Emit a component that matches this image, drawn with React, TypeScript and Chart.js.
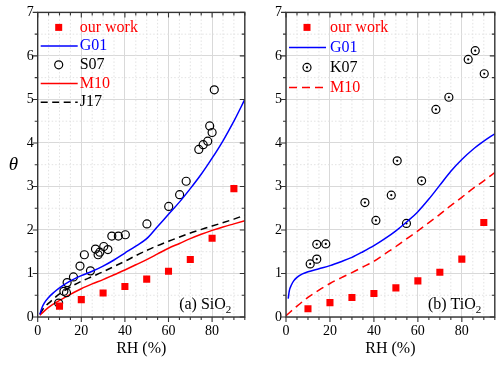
import React, { useEffect, useRef } from 'react';
import { Chart, registerables } from 'chart.js';
Chart.register(...registerables);

const FONT = "'Liberation Serif', 'Times New Roman', serif";
const RED = '#ff0000';
const BLUE = '#0000ff';
const AXIS = '#333333';

// ---- shared ----
const ourWorkRH = [10, 20, 30, 40, 50, 60, 70, 80, 90];
const xMajorTicks = [0, 20, 40, 60, 80];
const yMajorTicks = [0, 1, 2, 3, 4, 5, 6, 7];

// ---- panel (a) SiO2 ----
const sio2OurWork = [0.25, 0.40, 0.55, 0.70, 0.87, 1.05, 1.32, 1.81, 2.95];
const sio2G01RH = [1, 2, 3, 5, 7.5, 10, 15, 20, 25, 30, 35, 40, 45, 50, 55, 60, 65, 70, 75, 80, 85, 90, 95];
const sio2G01 = [0.06, 0.22, 0.32, 0.45, 0.57, 0.67, 0.83, 0.95, 1.05, 1.17, 1.31, 1.47, 1.63, 1.80, 2.08, 2.36, 2.64, 2.95, 3.28, 3.65, 4.05, 4.50, 5.00];
const sio2S07RH = [9.6, 12, 13.2, 13.5, 16.4, 19.4, 21.4, 24.2, 26.5, 27.7, 28.5, 30.3, 32.2, 34, 37, 40.2, 50.1, 60.1, 65.1, 68.1, 73.9, 75.9, 78, 78.9, 80, 81];
const sio2S07 = [0.32, 0.59, 0.56, 0.79, 0.92, 1.17, 1.43, 1.06, 1.56, 1.43, 1.49, 1.62, 1.55, 1.86, 1.86, 1.89, 2.14, 2.54, 2.81, 3.12, 3.85, 3.96, 4.04, 4.39, 4.24, 5.22];
const sio2M10RH = [1, 2, 5, 10, 15, 20, 25, 30, 35, 40, 45, 50, 55, 60, 65, 70, 75, 80, 85, 90, 95];
const sio2M10 = [0.04, 0.09, 0.22, 0.38, 0.52, 0.65, 0.76, 0.86, 0.97, 1.08, 1.20, 1.32, 1.45, 1.58, 1.69, 1.80, 1.90, 1.99, 2.07, 2.14, 2.21];
const sio2J17RH = [1, 2, 4, 6, 10, 15, 20, 25, 30, 35, 40, 45, 50, 55, 60, 70, 80, 90, 95];
const sio2J17 = [0.06, 0.15, 0.27, 0.36, 0.53, 0.69, 0.82, 0.93, 1.04, 1.16, 1.28, 1.41, 1.53, 1.64, 1.74, 1.93, 2.09, 2.25, 2.34];

// ---- panel (b) TiO2 ----
const tio2OurWork = [0.19, 0.33, 0.45, 0.54, 0.67, 0.83, 1.03, 1.33, 2.17];
const tio2G01RH = [1, 1.5, 2.5, 3.5, 5, 7.5, 10, 15, 20, 25, 30, 35, 40, 45, 50, 55, 60, 65, 70, 75, 80, 85, 90, 95];
const tio2G01 = [0.42, 0.60, 0.74, 0.83, 0.91, 0.99, 1.04, 1.11, 1.18, 1.27, 1.37, 1.50, 1.64, 1.80, 1.98, 2.19, 2.42, 2.71, 3.03, 3.35, 3.62, 3.85, 4.04, 4.21];
const tio2K07RH = [11, 14, 14, 18.1, 35.9, 40.9, 47.9, 50.6, 54.8, 61.7, 68.2, 74.1, 82.9, 86.1, 90.2];
const tio2K07 = [1.22, 1.33, 1.67, 1.68, 2.63, 2.22, 2.80, 3.59, 2.15, 3.13, 4.77, 5.05, 5.92, 6.12, 5.59];
const tio2M10RH = [0, 5, 10, 15, 20, 25, 30, 35, 40, 45, 50, 55, 60, 65, 70, 75, 80, 85, 90, 95];
const tio2M10 = [0.03, 0.25, 0.45, 0.62, 0.77, 0.90, 1.02, 1.15, 1.28, 1.45, 1.62, 1.80, 1.98, 2.17, 2.36, 2.56, 2.75, 2.95, 3.13, 3.32];

const X_MIN = 0, X_MAX = 95, Y_MIN = 0, Y_MAX = 7;
const X_MINOR = 5, Y_MINOR = 0.5;

const zip = (xs: number[], ys: number[]) => xs.map((x, i) => ({ x, y: ys[i] }));

const squares = (label: string, ys: number[]) => ({
  label, data: zip(ourWorkRH, ys), showLine: false, pointStyle: 'rect', pointRadius: 5,
  pointBackgroundColor: RED, backgroundColor: RED, pointBorderWidth: 0, borderWidth: 0,
  legendColor: RED,
});
const curve = (label: string, xs: number[], ys: number[], color: string, dash: number[], textColor: string) => ({
  label, data: zip(xs, ys), borderColor: color, borderWidth: 1.5, borderDash: dash, pointRadius: 0,
  cubicInterpolationMode: 'monotone', fill: false, legendColor: textColor,
});
const circles = (label: string, xs: number[], ys: number[], dot: boolean) => ({
  label, data: zip(xs, ys), showLine: false, pointStyle: 'circle', pointRadius: 4,
  pointBorderColor: '#000', pointBackgroundColor: 'rgba(0,0,0,0)', pointBorderWidth: 1.2,
  borderColor: '#000', backgroundColor: 'rgba(0,0,0,0)', legendColor: '#000', legendDot: dot,
});
const dots = (xs: number[], ys: number[]) => ({
  label: '', data: zip(xs, ys), showLine: false, pointStyle: 'circle', pointRadius: 1.1,
  pointBackgroundColor: '#000', pointBorderWidth: 0, borderWidth: 0,
});

const decorPlugin = {
  id: 'decor',
  beforeDatasetsDraw(chart: any) {
    const { ctx, chartArea: a, scales } = chart;
    const x = scales.x, y = scales.y;
    ctx.save();
    ctx.strokeStyle = '#e2e2e2';
    ctx.lineWidth = 1;
    ctx.setLineDash([1.5, 2]);
    ctx.beginPath();
    for (let v = X_MIN + X_MINOR; v < X_MAX; v += X_MINOR) {
      if (xMajorTicks.includes(v)) continue;
      const p = x.getPixelForValue(v);
      ctx.moveTo(p, a.top); ctx.lineTo(p, a.bottom);
    }
    for (let v = Y_MIN + Y_MINOR; v < Y_MAX; v += Y_MINOR) {
      if (yMajorTicks.includes(v)) continue;
      const p = y.getPixelForValue(v);
      ctx.moveTo(a.left, p); ctx.lineTo(a.right, p);
    }
    ctx.stroke();
    ctx.restore();
  },
  afterDraw(chart: any, _args: any, opts: any) {
    const { ctx, chartArea: a, scales } = chart;
    const x = scales.x, y = scales.y;
    ctx.save();
    ctx.setLineDash([]);
    // frame
    ctx.strokeStyle = AXIS;
    ctx.lineWidth = 1.4;
    ctx.strokeRect(a.left, a.top, a.right - a.left, a.bottom - a.top);
    // tick marks
    ctx.lineWidth = 1.1;
    ctx.beginPath();
    for (let v = X_MIN; v <= X_MAX + 1e-6; v += X_MINOR) {
      const p = x.getPixelForValue(v);
      const len = xMajorTicks.includes(v) ? 5 : 3;
      ctx.moveTo(p, a.bottom); ctx.lineTo(p, a.bottom + len);
      ctx.moveTo(p, a.top); ctx.lineTo(p, a.top + len);
    }
    for (let v = Y_MIN; v <= Y_MAX + 1e-6; v += Y_MINOR) {
      const p = y.getPixelForValue(v);
      const len = yMajorTicks.includes(v) ? 5 : 3;
      ctx.moveTo(a.left - len, p); ctx.lineTo(a.left, p);
      ctx.moveTo(a.right - len, p); ctx.lineTo(a.right, p);
    }
    ctx.stroke();

    // legend
    let row = 0;
    chart.data.datasets.forEach((ds: any) => {
      if (!ds.legendColor) return;
      const cy = a.top + opts.legendTop + row * opts.rowGap;
      const mx = a.left + 21;
      if (ds.showLine === false) {
        if (ds.pointStyle === 'rect') {
          ctx.fillStyle = ds.pointBackgroundColor;
          ctx.fillRect(mx - 3.5, cy - 3.5, 7, 7);
        } else {
          ctx.strokeStyle = ds.pointBorderColor;
          ctx.lineWidth = ds.pointBorderWidth;
          ctx.setLineDash([]);
          ctx.beginPath(); ctx.arc(mx, cy, ds.pointRadius, 0, Math.PI * 2); ctx.stroke();
          if (ds.legendDot) {
            ctx.fillStyle = '#000';
            ctx.beginPath(); ctx.arc(mx, cy, 1.1, 0, Math.PI * 2); ctx.fill();
          }
        }
      } else {
        ctx.strokeStyle = ds.borderColor;
        ctx.lineWidth = ds.borderWidth;
        ctx.setLineDash(ds.borderDash || []);
        ctx.beginPath(); ctx.moveTo(a.left + 3, cy); ctx.lineTo(a.left + 40, cy); ctx.stroke();
        ctx.setLineDash([]);
      }
      ctx.fillStyle = ds.legendColor;
      ctx.font = `16px ${FONT}`;
      ctx.textAlign = 'left';
      ctx.textBaseline = 'middle';
      ctx.fillText(ds.label, a.left + opts.textDx, cy);
      row++;
    });

    // panel tag
    const [main, sub] = opts.tag;
    ctx.font = `16px ${FONT}`;
    const w1 = ctx.measureText(main).width;
    ctx.font = `11px ${FONT}`;
    const w2 = ctx.measureText(sub).width;
    const xEnd = a.right - 13.5;
    const base = a.bottom - 8;
    ctx.fillStyle = '#000';
    ctx.textAlign = 'left';
    ctx.textBaseline = 'alphabetic';
    ctx.font = `16px ${FONT}`;
    ctx.fillText(main, xEnd - w1 - w2, base);
    ctx.font = `11px ${FONT}`;
    ctx.fillText(sub, xEnd - w2, base + 4);

    // y title (upright)
    if (opts.yTitle) {
      ctx.font = `italic 19px ${FONT}`;
      ctx.textAlign = 'center';
      ctx.textBaseline = 'middle';
      ctx.fillText(opts.yTitle, 13.3, (a.top + a.bottom) / 2);
    }
    ctx.restore();
  },
};

function makeConfig(datasets: any[], axisWidth: number, padRight: number, decor: any) {
  return {
    type: 'line',
    data: { datasets },
    plugins: [decorPlugin],
    options: {
      animation: false,
      responsive: false,
      maintainAspectRatio: false,
      layout: { padding: { top: 9, right: padRight, left: 0, bottom: 0 } },
      plugins: { legend: { display: false }, tooltip: { enabled: false }, decor },
      scales: {
        x: {
          type: 'linear', min: X_MIN, max: X_MAX,
          afterFit: (s: any) => { s.height = 52; },
          afterBuildTicks: (s: any) => { s.ticks = xMajorTicks.map((v) => ({ value: v })); },
          ticks: { stepSize: 20, includeBounds: false, padding: 6, color: '#000', font: { family: FONT, size: 14 } },
          grid: { color: '#d9d9d9', lineWidth: 1, drawTicks: false },
          border: { display: false },
          title: { display: true, text: 'RH (%)', color: '#000', font: { family: FONT, size: 16 }, padding: { top: 0, bottom: 11 } },
        },
        y: {
          type: 'linear', min: Y_MIN, max: Y_MAX,
          afterFit: (s: any) => { s.width = axisWidth; },
          afterBuildTicks: (s: any) => { s.ticks = yMajorTicks.map((v) => ({ value: v })); },
          ticks: { stepSize: 1, padding: 4, color: '#000', font: { family: FONT, size: 14 } },
          grid: { color: '#d9d9d9', lineWidth: 1, drawTicks: false },
          border: { display: false },
        },
      },
    },
  };
}

function Panel({ config, left }: { config: any; left: number }) {
  const ref = useRef<HTMLCanvasElement>(null);
  useEffect(() => {
    const chart = new Chart(ref.current as HTMLCanvasElement, config);
    return () => chart.destroy();
  }, [config]);
  return (
    <div style={{ position: 'absolute', left, top: 0, width: 250, height: 369 }}>
      <canvas ref={ref} width={250} height={369} style={{ width: 250, height: 369, display: 'block' }} />
    </div>
  );
}

const leftConfig = makeConfig(
  [
    squares('our work', sio2OurWork),
    curve('G01', sio2G01RH, sio2G01, BLUE, [], BLUE),
    circles('S07', sio2S07RH, sio2S07, false),
    curve('M10', sio2M10RH, sio2M10, RED, [], RED),
    curve('J17', sio2J17RH, sio2J17, '#000', [7, 4.5], '#000'),
  ],
  37.7, 2,
  { legendTop: 15, rowGap: 18.7, textDx: 42, tag: ['(a) SiO', '2'], yTitle: 'θ' },
);

const rightConfig = makeConfig(
  [
    squares('our work', tio2OurWork),
    curve('G01', tio2G01RH, tio2G01, BLUE, [], BLUE),
    circles('K07', tio2K07RH, tio2K07, true),
    dots(tio2K07RH, tio2K07),
    curve('M10', tio2M10RH, tio2M10, RED, [8, 5], RED),
  ],
  36, 4.5,
  { legendTop: 15, rowGap: 20, textDx: 44, tag: ['(b) TiO', '2'], yTitle: '' },
);

export default function App() {
  return (
    <div style={{ position: 'absolute', left: 0, top: 0, width: 500, height: 369, background: '#fff' }}>
      <Panel config={leftConfig} left={0} />
      <Panel config={rightConfig} left={250} />
    </div>
  );
}
